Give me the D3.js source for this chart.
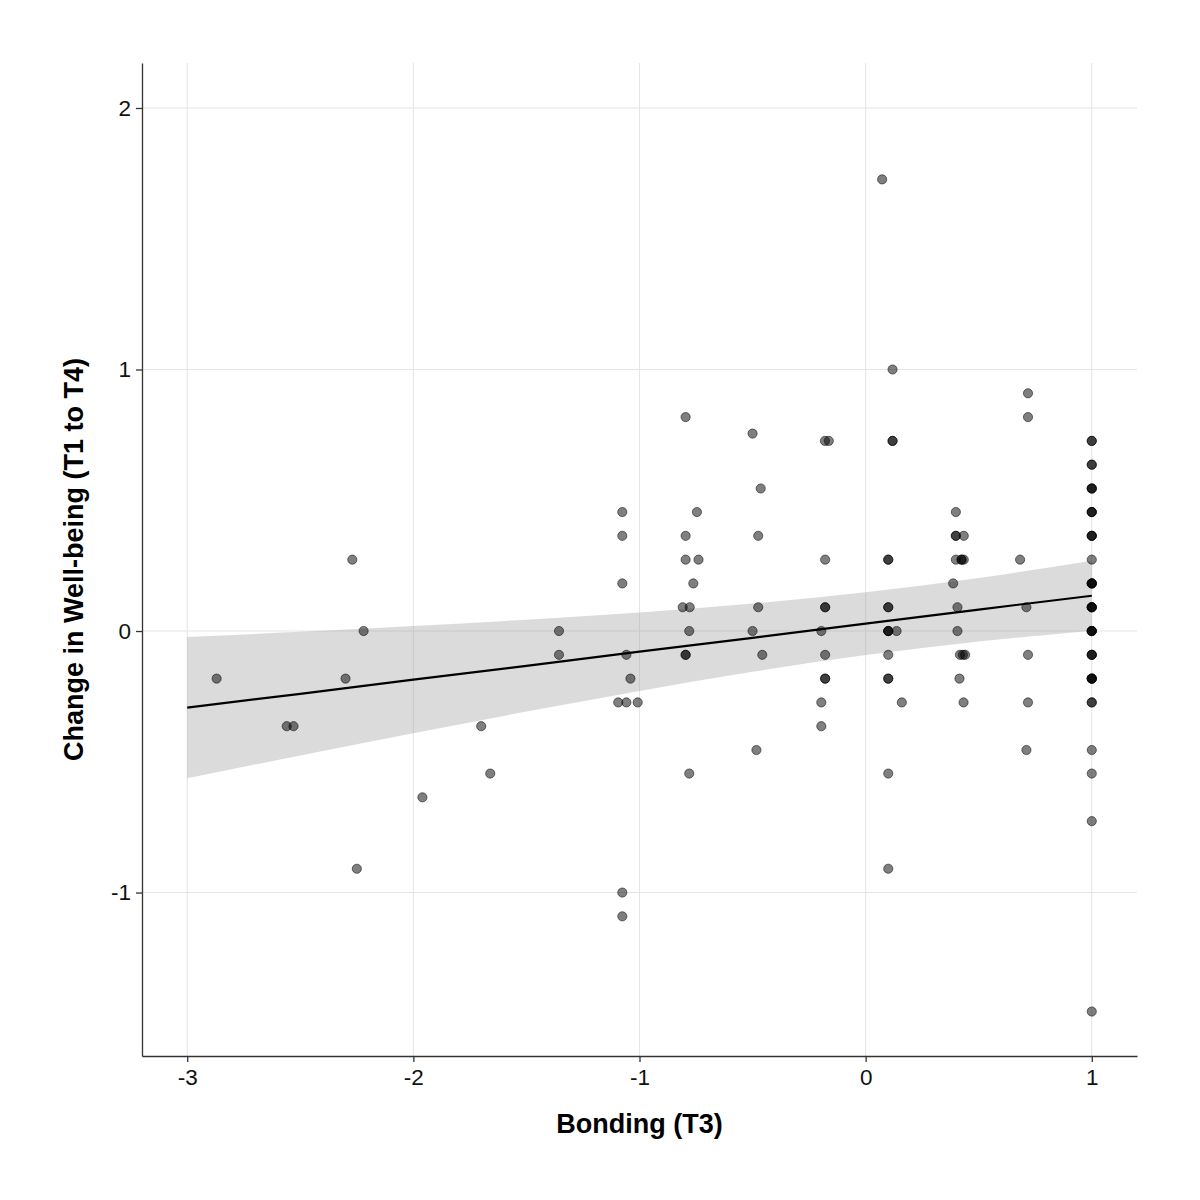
<!DOCTYPE html>
<html>
<head>
<meta charset="utf-8">
<script src="https://cdn.jsdelivr.net/npm/d3@7"></script>
<style>
  body { margin: 0; background: #fff; }
  text { font-family: "Liberation Sans", Arial, sans-serif; }
</style>
</head>
<body>
<svg class="display"></svg>
<script>
// bonding scores (T3) and change in well-being (T1 to T4), one entry per respondent
const bonding = [
  -2.87, -2.27, -2.22, -2.30, -2.56, -2.53, -1.70, -1.66, -1.96, -2.25,
  -0.796, -0.50, -0.464, -1.076, -0.746, -1.076, -0.796, -0.475, -0.796, -0.739,
  -1.076, -0.762, -0.809, -0.778, -0.475, -1.356, -0.78, -0.50, -1.356, -1.058,
  -0.796, -0.796, -0.457, -1.04, -1.094, -1.058, -1.008, -0.483, -0.78, -1.076,
  -1.076,
  0.073, 0.119, -0.18, -0.163, 0.119, 0.119, -0.179, 0.10, 0.10, -0.179,
  -0.179, 0.10, 0.10, -0.196, 0.10, 0.10, 0.10, 0.137, -0.179, 0.10,
  -0.179, -0.179, 0.10, 0.10, -0.196, 0.16, -0.196, 0.10, 0.10,
  0.718, 0.718, 0.399, 0.399, 0.399, 0.434, 0.399, 0.424, 0.424, 0.434,
  0.683, 0.387, 0.406, 0.711, 0.406, 0.417, 0.43, 0.44, 0.718, 0.415,
  0.433, 0.718, 0.711,
  1, 1, 1, 1, 1, 1, 1, 1, 1, 1,
  1, 1, 1, 1, 1, 1, 1, 1, 1, 1,
  1, 1, 1, 1, 1, 1, 1, 1, 1, 1,
  1, 1, 1, 1, 1, 1, 1, 1, 1
];
const wellbeing = [
  -0.182, 0.273, 0, -0.182, -0.364, -0.364, -0.364, -0.545, -0.636, -0.909,
  0.818, 0.755, 0.545, 0.455, 0.455, 0.364, 0.364, 0.364, 0.273, 0.273,
  0.182, 0.182, 0.091, 0.091, 0.091, 0, 0, 0, -0.091, -0.091,
  -0.091, -0.091, -0.091, -0.182, -0.273, -0.273, -0.273, -0.455, -0.545, -1.0,
  -1.091,
  1.727, 1.0, 0.727, 0.727, 0.727, 0.727, 0.273, 0.273, 0.273, 0.091,
  0.091, 0.091, 0.091, 0, 0, 0, 0, 0, -0.091, -0.091,
  -0.182, -0.182, -0.182, -0.182, -0.273, -0.273, -0.364, -0.545, -0.909,
  0.909, 0.818, 0.455, 0.364, 0.364, 0.364, 0.273, 0.273, 0.273, 0.273,
  0.273, 0.182, 0.091, 0.091, 0, -0.091, -0.091, -0.091, -0.091, -0.182,
  -0.273, -0.273, -0.455,
  0.727, 0.727, 0.636, 0.636, 0.545, 0.545, 0.545, 0.455, 0.455, 0.455,
  0.364, 0.364, 0.364, 0.273, 0.182, 0.182, 0.182, 0.182, 0.091, 0.091,
  0.091, 0.091, 0, 0, 0, 0, -0.091, -0.091, -0.091, -0.182,
  -0.182, -0.182, -0.182, -0.273, -0.273, -0.455, -0.545, -0.727, -1.455
];

// fitted line with its confidence band
const smoothX   = [-3, -2.5, -2, -1.5, -1, -0.5, 0, 0.5, 1];
const smoothFit = [-0.293, -0.240, -0.186, -0.133, -0.079, -0.026, 0.028, 0.082, 0.135];
const smoothLo  = [-0.563, -0.476, -0.391, -0.308, -0.229, -0.156, -0.092, -0.040, 0.001];
const smoothHi  = [-0.023, -0.003, 0.019, 0.043, 0.071, 0.105, 0.148, 0.203, 0.269];

const xTicks = [-3, -2, -1, 0, 1];
const yTicks = [-1, 0, 1, 2];

const width = 1200;
const height = 1200;
const margin = {top: 63, right: 63, bottom: 144, left: 142};

const svg = d3.select('.display')
  .attr('width', width)
  .attr('height', height);

svg.append('rect')
  .attr('width', width)
  .attr('height', height)
  .attr('fill', '#fff');

const x = d3.scaleLinear()
  .domain([-3.2, 1.2])
  .range([margin.left, width - margin.right]);

const y = d3.scaleLinear()
  .domain([-1.625, 2.172])
  .range([height - margin.bottom, margin.top]);

// grid
const grid = svg.append('g');
grid.selectAll('.gx')
  .data(xTicks)
  .enter().append('line')
    .attr('x1', d => x(d)).attr('x2', d => x(d))
    .attr('y1', y.range()[0]).attr('y2', y.range()[1])
    .attr('stroke', '#e6e6e6')
    .attr('stroke-width', 1.1);
grid.selectAll('.gy')
  .data(yTicks)
  .enter().append('line')
    .attr('y1', d => y(d)).attr('y2', d => y(d))
    .attr('x1', x.range()[0]).attr('x2', x.range()[1])
    .attr('stroke', '#e6e6e6')
    .attr('stroke-width', 1.1);

const smooth = smoothX.map((d, i) => ({x: d, fit: smoothFit[i], lo: smoothLo[i], hi: smoothHi[i]}));

// confidence band
svg.append('path')
  .datum(smooth)
  .attr('fill', '#999999')
  .attr('fill-opacity', 0.35)
  .attr('d', d3.area()
    .x(d => x(d.x))
    .y0(d => y(d.lo))
    .y1(d => y(d.hi))
    .curve(d3.curveMonotoneX));

// points
const pts = bonding.map((d, i) => ({x: d, y: wellbeing[i]}));
svg.append('g')
  .selectAll('circle')
  .data(pts)
  .enter().append('circle')
    .attr('cx', d => x(d.x))
    .attr('cy', d => y(d.y))
    .attr('r', 4.6)
    .attr('fill', '#000')
    .attr('fill-opacity', 0.5)
    .attr('stroke', '#000')
    .attr('stroke-opacity', 0.5)
    .attr('stroke-width', 1);

// fitted line
svg.append('path')
  .datum(smooth)
  .attr('fill', 'none')
  .attr('stroke', '#000')
  .attr('stroke-width', 2.2)
  .attr('d', d3.line().x(d => x(d.x)).y(d => y(d.fit)));

// axes
const xAxis = svg.append('g')
  .attr('transform', 'translate(0,' + y.range()[0] + ')')
  .call(d3.axisBottom(x).tickValues(xTicks).tickFormat(d => String(d)).tickSize(6).tickPadding(7).tickSizeOuter(0));
const yAxis = svg.append('g')
  .attr('transform', 'translate(' + x.range()[0] + ',0)')
  .call(d3.axisLeft(y).tickValues(yTicks).tickFormat(d => String(d)).tickSize(6).tickPadding(5).tickSizeOuter(0));

[xAxis, yAxis].forEach(a => {
  a.select('.domain').attr('stroke', '#333').attr('stroke-width', 1.3);
  a.selectAll('.tick line').attr('stroke', '#333').attr('stroke-width', 1.3);
  a.selectAll('.tick text')
    .attr('fill', '#111')
    .style('font-size', '22.5px')
    .style('font-family', '"Liberation Sans", Arial, sans-serif');
});

// titles
svg.append('text')
  .attr('x', (x.range()[0] + x.range()[1]) / 2)
  .attr('y', 1133)
  .attr('text-anchor', 'middle')
  .style('font-size', '27px')
  .style('font-weight', 'bold')
  .attr('fill', '#000')
  .text('Bonding (T3)');

svg.append('text')
  .attr('transform', 'translate(83,' + (y.range()[0] + y.range()[1]) / 2 + ') rotate(-90)')
  .attr('text-anchor', 'middle')
  .style('font-size', '27px')
  .style('font-weight', 'bold')
  .attr('fill', '#000')
  .text('Change in Well-being (T1 to T4)');
</script>
</body>
</html>
